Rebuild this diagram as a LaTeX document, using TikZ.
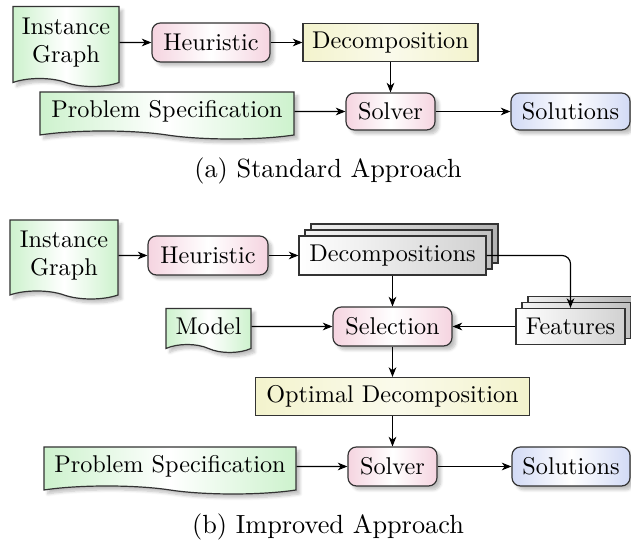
\documentclass[tikz,border=0pt]{standalone}
\usetikzlibrary{shapes.symbols,shadows,shadows.blur,arrows.meta}
\def\pxu{0.4167pt}
\definecolor{greenc}{RGB}{205,242,205}
\definecolor{pinkc}{RGB}{245,212,224}
\definecolor{bluec}{RGB}{210,218,245}
\definecolor{yellowc}{RGB}{243,243,205}
\begin{document}
\begin{tikzpicture}[x=0.4167pt,y=-0.4167pt,
  font=\fontsize{10.1}{12}\selectfont,
  base/.style={draw=black!80, line width=0.5pt, inner sep=0pt, align=center},
  softshadow/.style={blur shadow={shadow blur steps=6, shadow xshift=1.6pt, shadow yshift=-1.6pt, shadow blur radius=1.2pt, shadow opacity=25}},
  doc/.style={base, tape, tape bend top=none, tape bend bottom=out and in, tape bend height=8*\pxu,
    softshadow, left color=greenc, right color=greenc, middle color=white},
  proc/.style={base, rounded corners=3.5pt, softshadow,
    left color=pinkc, right color=pinkc, middle color=white},
  res/.style={base, rounded corners=3.5pt, softshadow,
    left color=bluec, right color=bluec, middle color=white},
  dec/.style={base, left color=yellowc, right color=yellowc, middle color=yellowc!40},
  multi/.style={base,
    copy shadow={shadow xshift=12*\pxu, shadow yshift=12*\pxu, draw=black!80, line width=0.5pt, left color=black!6, right color=black!30},
    copy shadow={shadow xshift=6*\pxu, shadow yshift=6*\pxu, draw=black!80, line width=0.5pt, left color=black!4, right color=black!25},
    left color=white, right color=black!18},
  arr/.style={-{Stealth[length=4pt,width=3.2pt,inset=1.2pt]}, line width=0.5pt},
  captext/.style={font=\fontsize{10.95}{13.6}\selectfont}
]
\useasboundingbox (0,0) rectangle (631,545);

% (a) Standard approach
\node[doc, minimum width=106*\pxu, minimum height=80*\pxu] (ig1) at (66,42.5) {Instance\\Graph};
\node[proc, minimum width=118*\pxu, minimum height=39*\pxu] (h1) at (211,42.5) {Heuristic};
\node[dec, minimum width=175*\pxu, minimum height=38*\pxu] (d1) at (390.5,42.5) {Decomposition};
\node[doc, minimum width=254*\pxu, minimum height=47*\pxu] (ps1) at (167,111.5) {Problem Specification};
\node[proc, minimum width=89*\pxu, minimum height=37*\pxu] (s1) at (390.5,111.5) {Solver};
\node[res, minimum width=119*\pxu, minimum height=37*\pxu] (o1) at (570.5,111.5) {Solutions};
\node[captext] (ca) at (328,171) {(a) Standard Approach};

\draw[arr] (ig1) -- (h1);
\draw[arr] (h1) -- (d1);
\draw[arr] (d1) -- (s1);
\draw[arr] (ps1) -- (s1);
\draw[arr] (s1) -- (o1);

% (b) Improved approach
\node[doc, minimum width=108*\pxu, minimum height=79*\pxu] (ig2) at (64,255.5) {Instance\\Graph};
\node[proc, minimum width=120*\pxu, minimum height=39*\pxu] (h2) at (208,255.5) {Heuristic};
\node[multi, minimum width=187*\pxu, minimum height=39*\pxu] (ds) at (392.5,255.5) {Decompositions};
\node[doc, minimum width=85*\pxu, minimum height=44*\pxu] (md) at (208.5,326.5) {Model};
\node[proc, minimum width=119*\pxu, minimum height=39*\pxu] (sel) at (392.5,326.5) {Selection};
\node[multi, minimum width=109*\pxu, minimum height=36*\pxu] (ft) at (570.5,326.5) {Features};
\node[dec, minimum width=274*\pxu, minimum height=38*\pxu] (od) at (392.5,396.5) {Optimal Decomposition};
\node[doc, minimum width=252*\pxu, minimum height=47*\pxu] (ps2) at (170,466.5) {Problem Specification};
\node[proc, minimum width=89*\pxu, minimum height=39*\pxu] (s2) at (392.5,466.5) {Solver};
\node[res, minimum width=118*\pxu, minimum height=39*\pxu] (o2) at (571,466.5) {Solutions};
\node[captext] (cb) at (328,527) {(b) Improved Approach};

\draw[arr] (ig2) -- (h2);
\draw[arr] (h2) -- (ds);
\draw[arr] (ds) -- (sel);
\draw[arr, rounded corners=3.5pt] (ds.east) -| (ft.north);
\draw[arr] (md) -- (sel);
\draw[arr] (ft) -- (sel);
\draw[arr] (sel) -- (od);
\draw[arr] (od) -- (s2);
\draw[arr] (ps2) -- (s2);
\draw[arr] (s2) -- (o2);
\end{tikzpicture}
\end{document}
